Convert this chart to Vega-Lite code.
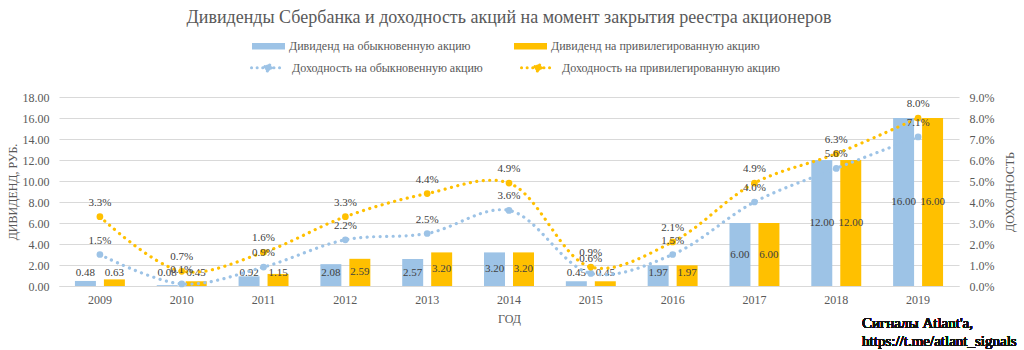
{
  "$schema": "https://vega.github.io/schema/vega-lite/v6.json",
  "width": 900,
  "height": 189,
  "autosize": {"type": "none"},
  "padding": {"left": 59, "top": 97, "right": 65, "bottom": 64},
  "background": "white",
  "config": {
    "font": "Liberation Serif",
    "view": {"stroke": null},
    "axis": {"labelFont": "Liberation Serif", "titleFont": "Liberation Serif", "titleFontWeight": "normal", "labelColor": "#595959", "titleColor": "#595959"},
    "legend": {"labelFont": "Liberation Serif"}
  },
  "title": {
    "text": "Дивиденды Сбербанка  и доходность акций на момент закрытия реестра акционеров",
    "font": "Liberation Serif",
    "fontSize": 18,
    "fontWeight": "normal",
    "color": "#595959",
    "anchor": "middle",
    "offset": 3
  },
  "datasets": {
    "div": [
      {"year": "2009", "series": "Дивиденд на обыкновенную акцию", "value": 0.48},
      {"year": "2010", "series": "Дивиденд на обыкновенную акцию", "value": 0.08},
      {"year": "2011", "series": "Дивиденд на обыкновенную акцию", "value": 0.92},
      {"year": "2012", "series": "Дивиденд на обыкновенную акцию", "value": 2.08},
      {"year": "2013", "series": "Дивиденд на обыкновенную акцию", "value": 2.57},
      {"year": "2014", "series": "Дивиденд на обыкновенную акцию", "value": 3.20},
      {"year": "2015", "series": "Дивиденд на обыкновенную акцию", "value": 0.45},
      {"year": "2016", "series": "Дивиденд на обыкновенную акцию", "value": 1.97},
      {"year": "2017", "series": "Дивиденд на обыкновенную акцию", "value": 6.00},
      {"year": "2018", "series": "Дивиденд на обыкновенную акцию", "value": 12.00},
      {"year": "2019", "series": "Дивиденд на обыкновенную акцию", "value": 16.00},
      {"year": "2009", "series": "Дивиденд на привилегированную акцию", "value": 0.63},
      {"year": "2010", "series": "Дивиденд на привилегированную акцию", "value": 0.45},
      {"year": "2011", "series": "Дивиденд на привилегированную акцию", "value": 1.15},
      {"year": "2012", "series": "Дивиденд на привилегированную акцию", "value": 2.59},
      {"year": "2013", "series": "Дивиденд на привилегированную акцию", "value": 3.20},
      {"year": "2014", "series": "Дивиденд на привилегированную акцию", "value": 3.20},
      {"year": "2015", "series": "Дивиденд на привилегированную акцию", "value": 0.45},
      {"year": "2016", "series": "Дивиденд на привилегированную акцию", "value": 1.97},
      {"year": "2017", "series": "Дивиденд на привилегированную акцию", "value": 6.00},
      {"year": "2018", "series": "Дивиденд на привилегированную акцию", "value": 12.00},
      {"year": "2019", "series": "Дивиденд на привилегированную акцию", "value": 16.00}
    ],
    "yld": [
      {"year": "2009", "series": "Доходность на обыкновенную акцию", "yield": 0.015},
      {"year": "2010", "series": "Доходность на обыкновенную акцию", "yield": 0.001},
      {"year": "2011", "series": "Доходность на обыкновенную акцию", "yield": 0.009},
      {"year": "2012", "series": "Доходность на обыкновенную акцию", "yield": 0.022},
      {"year": "2013", "series": "Доходность на обыкновенную акцию", "yield": 0.025},
      {"year": "2014", "series": "Доходность на обыкновенную акцию", "yield": 0.036},
      {"year": "2015", "series": "Доходность на обыкновенную акцию", "yield": 0.006},
      {"year": "2016", "series": "Доходность на обыкновенную акцию", "yield": 0.015},
      {"year": "2017", "series": "Доходность на обыкновенную акцию", "yield": 0.040},
      {"year": "2018", "series": "Доходность на обыкновенную акцию", "yield": 0.056},
      {"year": "2019", "series": "Доходность на обыкновенную акцию", "yield": 0.071},
      {"year": "2009", "series": "Доходность на привилегированную акцию", "yield": 0.033},
      {"year": "2010", "series": "Доходность на привилегированную акцию", "yield": 0.007},
      {"year": "2011", "series": "Доходность на привилегированную акцию", "yield": 0.016},
      {"year": "2012", "series": "Доходность на привилегированную акцию", "yield": 0.033},
      {"year": "2013", "series": "Доходность на привилегированную акцию", "yield": 0.044},
      {"year": "2014", "series": "Доходность на привилегированную акцию", "yield": 0.049},
      {"year": "2015", "series": "Доходность на привилегированную акцию", "yield": 0.009},
      {"year": "2016", "series": "Доходность на привилегированную акцию", "yield": 0.021},
      {"year": "2017", "series": "Доходность на привилегированную акцию", "yield": 0.049},
      {"year": "2018", "series": "Доходность на привилегированную акцию", "yield": 0.063},
      {"year": "2019", "series": "Доходность на привилегированную акцию", "yield": 0.080}
    ]
  },
  "encoding": {
    "x": {
      "field": "year", "type": "nominal",
      "scale": {"paddingInner": 0, "paddingOuter": 0},
      "axis": {
        "title": "ГОД", "titleFontSize": 12, "titlePadding": 8,
        "labelAngle": 0, "labelFontSize": 12, "labelPadding": 8,
        "domainColor": "#d9d9d9", "ticks": false, "grid": false
      }
    }
  },
  "layer": [
    {
      "data": {"name": "div"},
      "encoding": {
        "y": {
          "type": "quantitative",
          "scale": {"domain": [0, 18]},
          "axis": {
            "title": "ДИВИДЕНД, РУБ.", "titleFontSize": 12, "titlePadding": 3,
            "values": [0, 2, 4, 6, 8, 10, 12, 14, 16, 18], "format": ".2f",
            "labelFontSize": 12, "labelPadding": 10, "domain": false, "ticks": false,
            "grid": true, "gridColor": "#d9d9d9"
          }
        }
      },
      "layer": [
        {
          "mark": {"type": "bar"},
          "encoding": {
            "y": {"field": "value"},
            "xOffset": {"field": "series", "type": "nominal", "scale": {"paddingInner": 0.276, "paddingOuter": 0.55}},
            "color": {
              "field": "series", "type": "nominal",
              "scale": {"domain": ["Дивиденд на обыкновенную акцию", "Дивиденд на привилегированную акцию"], "range": ["#9DC3E6", "#FFC000"]},
              "legend": {
                "title": null, "orient": "none", "direction": "horizontal",
                "legendX": 193, "legendY": -67.5, "padding": 0,
                "symbolType": "M-1,-0.2H1V0.2H-1Z", "symbolSize": 1089,
                "symbolStrokeWidth": 0,
                "labelFontSize": 12, "labelColor": "#595959", "labelOffset": 4,
                "columnPadding": 43, "labelLimit": 400
              }
            }
          }
        },
        {
          "transform": [{"calculate": "max(datum.value / 2, 1.24)", "as": "labelPos"}],
          "mark": {"type": "text", "fontSize": 11, "color": "#404040", "baseline": "middle"},
          "encoding": {
            "y": {"field": "labelPos"},
            "xOffset": {"field": "series", "type": "nominal"},
            "text": {"field": "value", "type": "quantitative", "format": ".2f"}
          }
        },
        {
          "mark": {"type": "text", "fontSize": 15, "fontWeight": "normal", "color": "#111111", "align": "left", "baseline": "top", "lineHeight": 18, "dx": -56},
          "encoding": {
            "x": {"datum": "2019"},
            "y": {"datum": -2.85},
            "text": {"value": ["Сигналы Atlant'a,", "https://t.me/atlant_signals"]}
          }
        }
      ]
    },
    {
      "data": {"name": "yld"},
      "encoding": {
        "y": {
          "type": "quantitative",
          "scale": {"domain": [0, 0.09]},
          "axis": {
            "orient": "right", "title": "ДОХОДНОСТЬ", "titleFontSize": 12, "titleAngle": 270, "titlePadding": 23,
            "values": [0, 0.01, 0.02, 0.03, 0.04, 0.05, 0.06, 0.07, 0.08, 0.09], "format": ".1%",
            "labelFontSize": 12, "labelPadding": 10, "domain": false, "ticks": false, "grid": false
          }
        }
      },
      "layer": [
        {
          "mark": {"type": "line", "interpolate": "catmull-rom", "strokeDash": [0.1, 6.4], "strokeCap": "round", "strokeWidth": 3.2},
          "encoding": {
            "y": {"field": "yield"},
            "stroke": {
              "field": "series", "type": "nominal",
              "scale": {"domain": ["Доходность на обыкновенную акцию", "Доходность на привилегированную акцию"], "range": ["#9DC3E6", "#FFC000"]},
              "legend": {
                "title": null, "orient": "none", "direction": "horizontal",
                "legendX": 191, "legendY": -47.5, "padding": 0,
                "symbolType": "M-1,0H1M0.2,0A0.2,0.2,0,1,1,-0.2,0A0.2,0.2,0,1,1,0.2,0", "symbolSize": 1089,
                "symbolStrokeWidth": 3, "symbolDash": [0.1, 5.5],
                "labelFontSize": 12, "labelColor": "#595959", "labelOffset": 6,
                "columnPadding": 32, "labelLimit": 400,
                "encode": {
                  "symbols": {
                    "update": {
                      "strokeCap": {"value": "round"},
                      "fill": [
                        {"test": "datum.value === 'Доходность на обыкновенную акцию'", "value": "#9DC3E6"},
                        {"value": "#FFC000"}
                      ],
                      "fillOpacity": {"value": 1}
                    }
                  }
                }
              }
            }
          }
        },
        {
          "mark": {"type": "point", "filled": true, "size": 45, "opacity": 1},
          "encoding": {
            "y": {"field": "yield"},
            "fill": {
              "field": "series", "type": "nominal",
              "scale": {"domain": ["Доходность на обыкновенную акцию", "Доходность на привилегированную акцию"], "range": ["#9DC3E6", "#FFC000"]},
              "legend": null
            }
          }
        },
        {
          "mark": {"type": "text", "fontSize": 11, "color": "#404040", "baseline": "middle", "dy": -14},
          "encoding": {
            "y": {"field": "yield"},
            "text": {"field": "yield", "type": "quantitative", "format": ".1%"}
          }
        }
      ]
    }
  ],
  "resolve": {"scale": {"y": "independent"}}
}
